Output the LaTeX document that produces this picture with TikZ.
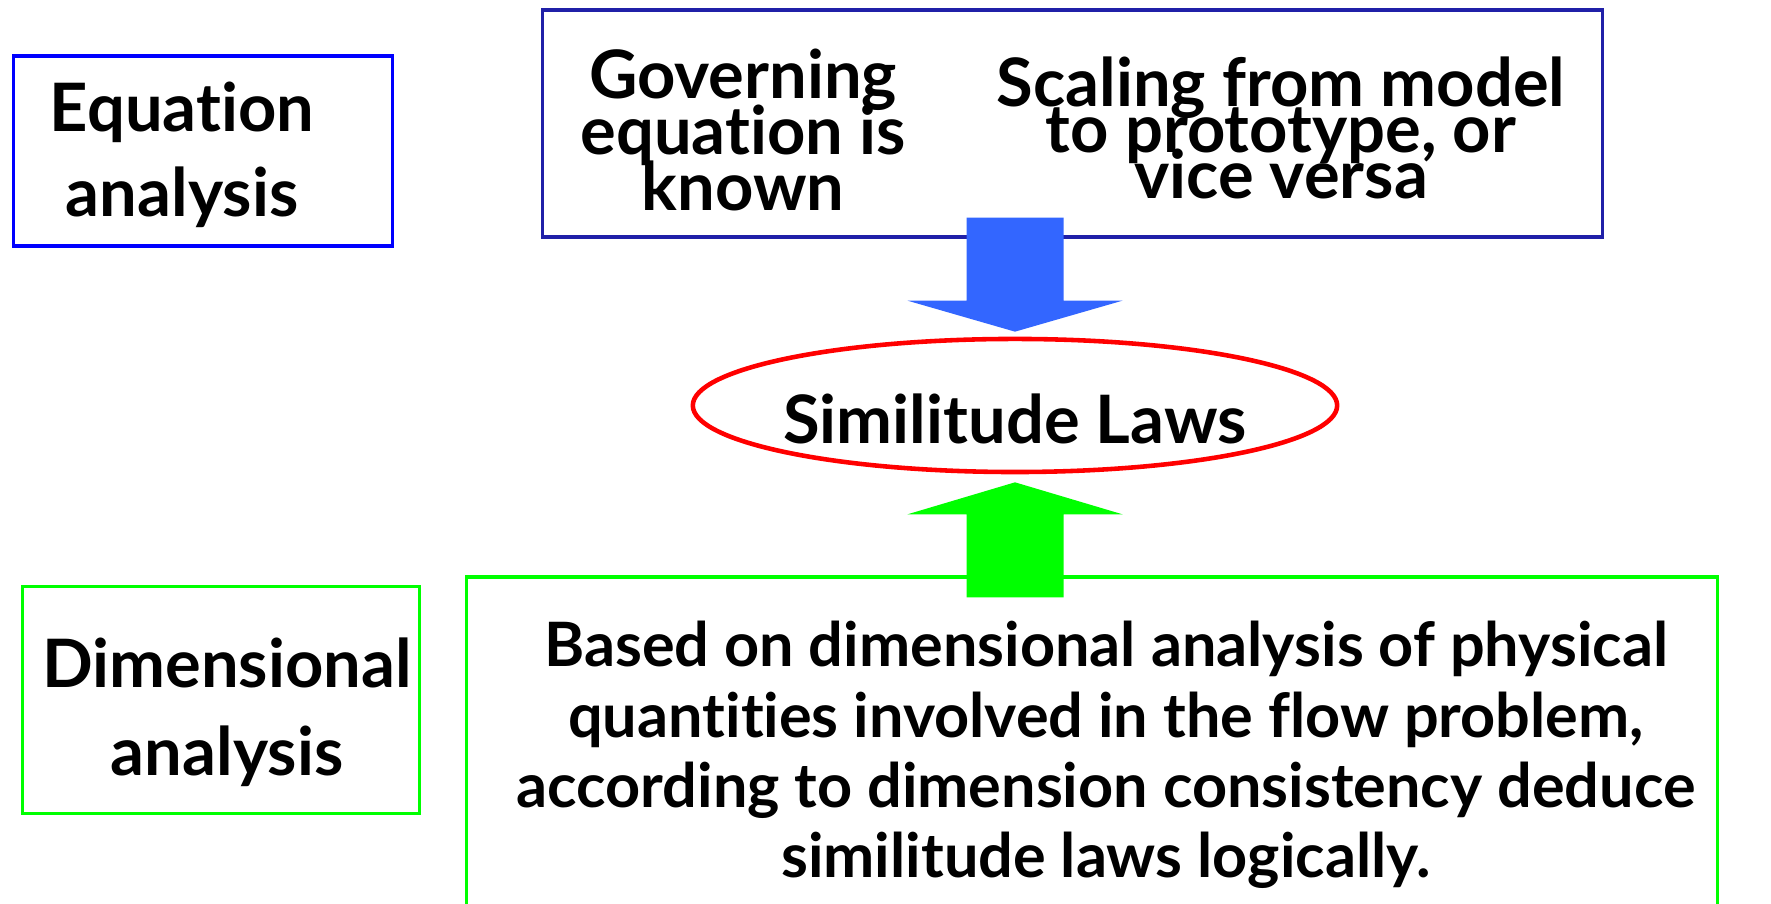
\documentclass[tikz,border=0pt]{standalone}
\usepackage{fontspec}
\setmainfont{Lato}[Ligatures={NoCommon}]
\usetikzlibrary{shapes.geometric, calc}
\definecolor{eqblue}{HTML}{0000FF}
\definecolor{navyline}{HTML}{2020A8}
\definecolor{arrowblue}{HTML}{3366FF}
\definecolor{lawred}{HTML}{FF0000}
\definecolor{dimgreen}{HTML}{00FF00}
\newcommand{\tightlines}{\lineskiplimit=-100pt\lineskip=0pt}
\tikzset{
    frame/.style={rectangle, draw, line width=1pt, fill=white, inner sep=0pt},
    eqframe/.style={frame, draw=eqblue},
    topframe/.style={frame, draw=navyline},
    dimframe/.style={frame, draw=dimgreen},
    lawellipse/.style={ellipse, draw=lawred, line width=1.3pt, inner sep=0pt, minimum width=6.44cm, minimum height=1.33cm},
    bigtext/.style={align=center, inner sep=0pt, font=\bfseries\fontsize{19}{24}\selectfont\tightlines}
}

\begin{document}
\begin{tikzpicture}[x=0.01cm, y=-0.01cm]
    \clip (0,0) rectangle (1771,904);
    \fill[white] (0,0) rectangle (1771,904);
    % frames
    \node[eqframe, minimum width=3.785cm, minimum height=1.895cm] (eqbox) at (203,151) {};
    \node[topframe, minimum width=10.59cm, minimum height=2.27cm] (topbox) at (1072.5,123.5) {};
    \node[dimframe, minimum width=3.97cm, minimum height=2.27cm] (dimbox) at (221,700) {};
    \node[dimframe, minimum width=12.505cm, minimum height=3.53cm] (basedbox) at (1092,753.5) {};
    \node[lawellipse] (laws) at (1015,405.5) {};
    % texts
    \node[bigtext, font=\bfseries\fontsize{19}{24}\selectfont\tightlines] (eqtext) at (182,155) {Equation\\analysis};
    \node[bigtext, font=\bfseries\fontsize{19}{16}\selectfont\tightlines] (governing) at (743,130) {Governing\\equation is\\known};
    \node[bigtext, font=\bfseries\fontsize{19}{13}\selectfont\tightlines] (scaling) at (1281,128) {Scaling from model\\to prototype, or\\vice versa};
    \node[bigtext] (lawtext) at (1015,419) {Similitude Laws};
    \node[bigtext, font=\bfseries\fontsize{19}{25}\selectfont\tightlines] (dimtext) at (227,712) {Dimensional\\analysis};
    \node[bigtext, font=\bfseries\fontsize{17.4}{20}\selectfont\tightlines] (basedtext) at (1106,755) {Based on dimensional analysis of physical\\quantities involved in the flow problem,\\according to dimension consistency deduce\\similitude laws logically.};
    % block arrows
    \path (laws.north) ++(0,-5) coordinate (downtip);
    \fill[arrowblue] (downtip) -- ++(-107.5,-31) -- ++(59,0) -- ++(0,-83) -- ++(97,0) -- ++(0,83) -- ++(59,0) -- cycle;
    \path (laws.south) ++(0,8) coordinate (uptip);
    \fill[dimgreen] (uptip) -- ++(-107.5,32) -- ++(59,0) -- ++(0,83) -- ++(97,0) -- ++(0,-83) -- ++(59,0) -- cycle;
\end{tikzpicture}
\end{document}
